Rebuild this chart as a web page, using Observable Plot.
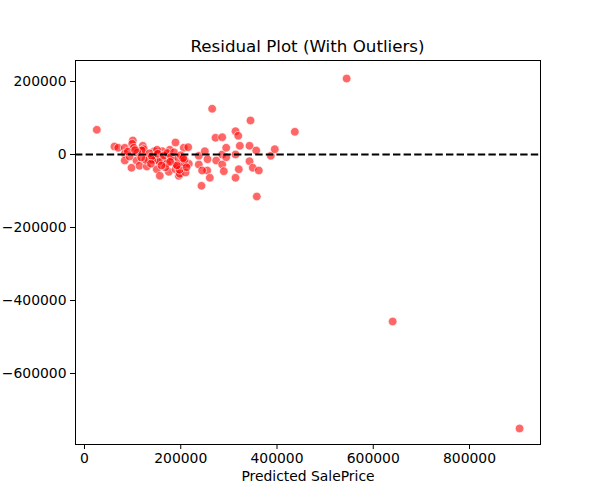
<!DOCTYPE html>
<html>
<head>
<meta charset="utf-8">
<script src="https://cdn.jsdelivr.net/npm/d3@7"></script>
<script src="https://cdn.jsdelivr.net/npm/@observablehq/plot@0.6"></script>
<style>
  html, body { margin: 0; padding: 0; background: #fff; }
  #wrap { width: 600px; font-family: "DejaVu Sans", sans-serif; }
  #title { height: 54px; box-sizing: border-box; padding-top: 36px; text-align: center; font-size: 16.7px; line-height: 20px; color: #000; padding-left: 15px; }
</style>
</head>
<body>
<div id="wrap">
  <div id="title">Residual Plot (With Outliers)</div>
  <div id="chart"></div>
</div>
<script>
const titleText = "Residual Plot (With Outliers)";
const xLabel = "Predicted SalePrice";

const predicted = [
  25600, 62300, 70000, 83700, 100400, 99100, 102400, 83700, 83700, 108100,
  97700, 114300, 121100, 123200, 129500, 133600, 144800, 147500, 150200, 156500,
  161500, 162700, 177200, 175200, 182200, 189100, 189100, 195900, 198000, 206300,
  206300, 215500, 209900, 216700, 237500, 237500, 243100, 250000, 255600, 255000,
  260400, 265300, 272200, 273700, 286100, 286100, 286100, 289500, 294400, 294400,
  313800, 319400, 313800, 313800, 320600, 322700, 342900, 344900, 342900, 349700,
  356800, 362200, 358000, 387100, 395400, 437000,
  93500, 126800, 154400, 171800, 190500, 197400, 204300, 244400, 140700, 119000, 150700,
  110000, 118000, 135000, 140000, 152000, 165000, 172000, 180000, 186000, 195000,
  200000, 208000, 212000, 168000, 138000, 178000, 192000, 205000, 90000, 105000, 160000,
  544700, 640300, 904000
];
const residual = [
  67700, 21900, 18400, 18400, 38400, 29300, 18400, 1900, -16400, -16400,
  -36400, -31000, 23800, 14500, -32900, -14500, 9000, -14500, -40300, -58400,
  9000, -14500, 12900, -47400, -12900, 32900, -40300, -58400, -52900, 18400,
  -27400, 20000, -49300, -25500, -3600, -27400, -85800, 9000, -12900, -43800,
  -63800, 125200, 45800, -16400, 47400, 0, -27400, -45800, 18400, -7400,
  63800, 51200, 0, -63800, -40300, 23800, 23800, 93200, -18400, -36400,
  11000, -43800, -115100, -3600, 14500, 62200,
  -5500, -14500, -18400, -23800, -27400, -41900, -21900, -43800, -14500, 11100, 12900,
  5000, -8000, 3000, -5000, 2000, -3000, 4000, -6000, 6000, -10000,
  -2000, -15000, -35000, -35000, -25000, -20000, -30000, -10000, 8000, 12000, -30000,
  208000, -457500, -750700
];

const xTicks = [0, 200000, 400000, 600000, 800000];
const yTicks = [200000, 0, -200000, -400000, -600000];

const data = predicted.map((p, i) => ({predicted: p, residual: residual[i]}));
const fmt = d3.format("d");

const chart = Plot.plot({
  width: 600,
  height: 446,
  marginTop: 6,
  marginLeft: 75,
  marginRight: 60,
  marginBottom: 56,
  style: {fontFamily: "DejaVu Sans, sans-serif", fontSize: "13.9px", color: "#000", background: "#fff"},
  x: {domain: [-18700, 947500], label: null},
  y: {domain: [-794500, 257500], label: null},
  marks: [
    Plot.dot(data, {x: "predicted", y: "residual", r: 4.3, fill: "red", fillOpacity: 0.6, stroke: "white", strokeOpacity: 0.8, strokeWidth: 0.8}),
    Plot.ruleY([0], {stroke: "black", strokeWidth: 2, strokeDasharray: "7.4,3.2"}),
    Plot.frame({stroke: "black", strokeWidth: 1}),
    Plot.axisX({ticks: xTicks, tickFormat: fmt, tickSize: 5, tickPadding: 4, fontSize: 13.9, label: null}),
    Plot.axisY({ticks: yTicks, tickFormat: fmt, tickSize: 5, tickPadding: 4, fontSize: 13.9, label: null}),
    Plot.text([xLabel], {frameAnchor: "bottom", dy: 36, fontSize: 13.9, fill: "black"})
  ]
});
document.getElementById("chart").appendChild(chart);
</script>
</body>
</html>
